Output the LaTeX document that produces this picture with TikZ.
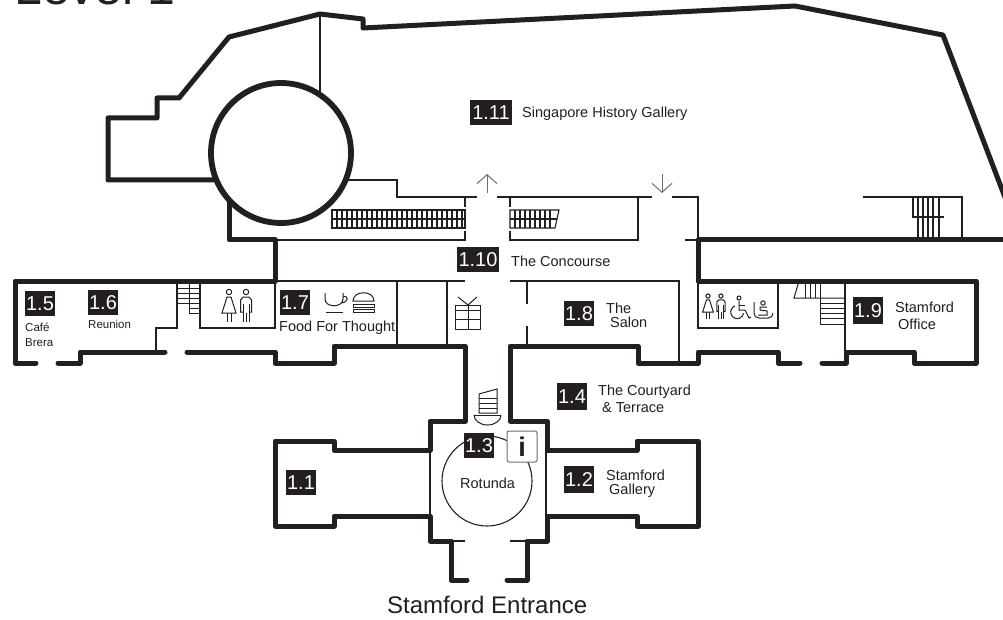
\documentclass[tikz,border=0pt]{standalone}
\usepackage{fontspec}
\setmainfont{Liberation Sans}
\usepackage{tikz}
\usetikzlibrary{arrows.meta}
\definecolor{MapInk}{RGB}{35, 31, 32}
\definecolor{MapGray}{RGB}{110, 110, 110}
\tikzset{
  wall/.style={line width=5pt, MapInk, line join=round, line cap=round},
  thinwall/.style={line width=1.1pt, MapInk},
  iconline/.style={line width=1pt, MapInk},
  badge/.style={fill=MapInk, text=white, inner sep=0pt, minimum width=30pt, minimum height=25pt, font=\fontsize{20}{20}\selectfont},
  roomlabel/.style={text=MapInk, inner sep=0pt, font=\fontsize{14.5}{14.5}\selectfont},
  smalllabel/.style={text=MapInk, inner sep=0pt, font=\fontsize{11.5}{11.5}\selectfont},
}
\newcommand{\womanfig}[3]{%
  \begin{scope}[shift={(#1,#2)}, scale=#3, iconline]
    \draw (0,0) circle (2.7);
    \draw (-2,5) -- (2,5) -- (7,21) -- (-7,21) -- cycle;
    \draw (-2,21) -- (-2,30) (2,21) -- (2,30);
  \end{scope}}
\newcommand{\manfig}[3]{%
  \begin{scope}[shift={(#1,#2)}, scale=#3, iconline]
    \draw (0,0) circle (2.7);
    \draw (-3,20) -- (-5.5,20) -- (-5.5,8) -- (-3,5) -- (3,5) -- (5.5,8) -- (5.5,20) -- (3,20);
    \draw (-3,30) -- (-3,12) (3,12) -- (3,30) (0,30) -- (0,21);
  \end{scope}}
\begin{document}
\begin{tikzpicture}[x=1pt, y=-1pt]
  \useasboundingbox (0,0) rectangle (1003,620);
  \fill[white] (0,0) rectangle (1003,620);

  % Title, cut by the page
  \node[anchor=base west, inner sep=0pt, text=MapInk, font=\fontsize{50}{50}\selectfont] (title) at (14,5) {Level 1};

  % Thin partitions, upper floor
  \draw[thinwall] (320,14) -- (320,92);
  \draw[thinwall] (348,180) -- (397,180) -- (397,197) -- (477,197);
  \draw[thinwall] (497,197) -- (652,197);
  \draw[thinwall] (672,197) -- (698,197) -- (698,240);
  \draw[thinwall] (685,240) -- (698,240);
  \draw[thinwall] (465,197) -- (465,207);
  \draw[thinwall] (465,231) -- (465,240) -- (275,240);
  \draw[thinwall] (510,197) -- (510,207);
  \draw[thinwall] (510,231) -- (510,240) -- (638,240) -- (638,197);
  \draw[thinwall] (863,197) -- (962,197) -- (962,240);

  % Escalators
  \draw[thinwall] (332,210) rectangle (465,228);
  \draw[thinwall] (332,219) -- (465,219);
  \foreach \x in {337,342,...,462} \draw[thinwall] (\x,210) -- (\x,228);
  \draw[thinwall] (510,210) -- (559,210) -- (555,228) -- (510,228) -- cycle;
  \draw[thinwall] (510,219) -- (557,219);
  \foreach \x in {515,520,...,550} \draw[thinwall] (\x,210) -- (\x,228);

  % Stairs, top right
  \foreach \x in {918,923,928,933,939} \draw[thinwall] (\x,197) -- (\x,240);
  \draw[thinwall] (913,197) -- (913,217) -- (944,217);

  % Up and down arrows
  \coordinate (uptail) at (487,193);
  \coordinate (uphead) at (487,174);
  \coordinate (downtail) at (662,174);
  \coordinate (downhead) at (662,193);
  \draw[MapGray, line width=1pt, -{Straight Barb[length=9pt, width=20pt]}] (uptail) -- (uphead);
  \draw[MapGray, line width=1pt, -{Straight Barb[length=9pt, width=20pt]}] (downtail) -- (downhead);

  % Concourse and rooms
  \draw[thinwall] (275,281) -- (465,281);
  \draw[thinwall] (510,281) -- (679,281) -- (679,362);
  \draw[thinwall] (397,281) -- (397,346);
  \draw[thinwall] (447,281) -- (447,346);
  \draw[thinwall] (527,281) -- (527,304);
  \draw[thinwall] (527,326) -- (527,346);
  \draw[thinwall] (177,281) -- (177,328) -- (156,328) -- (156,352);
  \draw[thinwall] (200,281) -- (200,328) -- (275,328) -- (275,281);
  \draw[thinwall] (698,281) -- (698,328) -- (778,328) -- (778,281);
  \draw[thinwall] (845,281) -- (845,352);
  \draw[thinwall] (430,450) -- (430,516);
  \draw[thinwall] (546,450) -- (546,516);
  \draw[thinwall] (451,541) -- (465,541);
  \draw[thinwall] (510,541) -- (527,541);

  % Stairs by the toilets
  \foreach \y in {288,293,298,303} \draw[iconline] (177,\y) -- (200,\y);
  \foreach \y in {308,313} \draw[iconline] (189,\y) -- (200,\y);
  \draw[iconline] (189,281) -- (189,313);

  % Stairs by Stamford Office
  \draw[iconline] (799,281) -- (794,298) -- (845,298);
  \foreach \x in {805,810,815} \draw[iconline] (\x,281) -- (\x,298);
  \draw[iconline] (820,281) -- (820,324);
  \foreach \y in {303,308,313,318,324} \draw[iconline] (820,\y) -- (845,\y);

  % Stairs to the rotunda
  \draw[iconline] (479,394) -- (497,389) -- (497,413) -- (479,413) -- cycle;
  \foreach \y in {398,403,408} \draw[iconline] (479,\y) -- (497,\y);
  \draw[iconline] (474,415) -- (501,415);
  \draw[iconline] (474,415) arc[start angle=180, end angle=0, x radius=13.5, y radius=10];

  % Thick outer walls
  \draw[wall] (213,180) -- (108,180) -- (108,118) -- (157,118) -- (157,98) -- (179,98) -- (229,37) -- (320,14) -- (363,19) -- (363,28) -- (795,6) -- (943,35) -- (1006,200);
  \draw[wall, line width=5.8pt] (281,153) circle (70);
  \draw[wall] (229,202) -- (229,240) -- (275,240) -- (275,281) -- (15,281) -- (15,363) -- (36,363);
  \draw[wall] (58,363) -- (80,363) -- (80,352) -- (165,352);
  \draw[wall] (187,352) -- (275,352) -- (275,363) -- (334,363) -- (334,346) -- (465,346) -- (465,421) -- (430,421) -- (430,450) -- (334,450) -- (334,441) -- (275,441) -- (275,526) -- (334,526) -- (334,516) -- (430,516) -- (430,541) -- (451,541) -- (451,580) -- (467,580);
  \draw[wall] (507,580) -- (527,580) -- (527,541) -- (547,541) -- (547,516) -- (637,516) -- (637,526) -- (698,526) -- (698,441) -- (637,441) -- (637,450) -- (547,450) -- (547,421) -- (510,421) -- (510,346) -- (638,346) -- (638,363) -- (698,363) -- (698,352) -- (778,352) -- (778,363) -- (800,363);
  \draw[wall] (822,363) -- (846,363) -- (846,352) -- (914,352) -- (914,363) -- (976,363) -- (976,281) -- (698,281) -- (698,240) -- (1006,240);

  % Rotunda
  \draw[line width=1.1pt, MapInk] (487,481) circle (45);
  \node[draw=MapGray, fill=white, rounded corners=2pt, line width=1pt, minimum width=30pt, minimum height=31pt, inner sep=0pt, text=MapInk, font=\bfseries\fontsize{27}{27}\selectfont] (info) at (522,446.5) {i};

  % Toilets
  \womanfig{229}{292}{1}
  \manfig{246}{292}{1}
  \womanfig{708}{296}{0.77}
  \manfig{721}{296}{0.77}

  % Wheelchair
  \draw[iconline] (739,298) circle (2);
  \draw[iconline] (739,301) -- (739,310) -- (745,310) -- (749,318) -- (751,317);
  \draw[iconline] (739,305) -- (745,305);
  \draw[iconline] (735,306) arc[start angle=-110, end angle=-350, radius=6.5];

  % Baby change
  \draw[iconline] (754,302) -- (754,313) .. controls (754,316) and (756,318) .. (759,318) -- (768,318) .. controls (771,318) and (773,316) .. (773,313);
  \draw[iconline] (763,303) circle (2.2);
  \draw[iconline] (767,307) -- (760,307) -- (760,310) -- (767,311) -- (767,315) -- (758,315);

  % Gift shop
  \draw[iconline] (455,305) rectangle (480,329);
  \draw[iconline] (455,310) -- (480,310);
  \draw[iconline] (455,319) -- (480,319);
  \draw[iconline] (468,305) -- (468,329);
  \draw[iconline] (458,297) -- (468,305) -- (477,297);

  % Cafe cup and burger
  \draw[iconline] (325,293) -- (325,299) .. controls (325,308) and (343,308) .. (343,299) -- (343,293);
  \draw[iconline] (343,296) .. controls (349,296) and (349,302) .. (341,303);
  \draw[iconline] (326,312) -- (343,312);
  \draw[iconline] (353,301) .. controls (353,290) and (374,290) .. (374,301) -- cycle;
  \draw[iconline] (353,304) rectangle (374,307);
  \draw[iconline] (353,309) rectangle (374,312);

  % Room numbers
  \node[badge, minimum width=42pt] (r111) at (491,112.5) {1.11};
  \node[badge, minimum width=42pt] (r110) at (478,259.5) {1.10};
  \node[badge] (r15) at (40,303.5) {1.5};
  \node[badge] (r16) at (103,302.5) {1.6};
  \node[badge] (r17) at (295,302.5) {1.7};
  \node[badge] (r18) at (579,313.5) {1.8};
  \node[badge, minimum height=27pt] (r19) at (868,310.5) {1.9};
  \node[badge, minimum height=27pt] (r14) at (572,396.5) {1.4};
  \node[badge] (r11) at (301,482.5) {1.1};
  \node[badge, minimum height=27pt] (r12) at (579,479.5) {1.2};
  \node[badge] (r13) at (479,445.5) {1.3};

  % Room names
  \node[roomlabel, anchor=west] (gallerylabel) at (522,114) {Singapore History Gallery};
  \node[roomlabel, anchor=west] (concourselabel) at (511,261) {The Concourse};
  \node[smalllabel, anchor=west] (cafelabel) at (25,327) {Café};
  \node[smalllabel, anchor=west] (breralabel) at (25,343) {Brera};
  \node[smalllabel, anchor=west] (reunionlabel) at (88,324) {Reunion};
  \node[roomlabel, anchor=west] (foodlabel) at (279,328) {Food For Thought};
  \node[roomlabel, anchor=west] (salonlabela) at (606,308) {The};
  \node[roomlabel, anchor=west] (salonlabelb) at (610,322) {Salon};
  \node[roomlabel, anchor=west] (officelabela) at (895,307) {Stamford};
  \node[roomlabel, anchor=west] (officelabelb) at (898,324) {Office};
  \node[roomlabel, anchor=west] (courtlabela) at (598,392) {The Courtyard};
  \node[roomlabel, anchor=west] (courtlabelb) at (602,408) {\& Terrace};
  \node[roomlabel, anchor=west] (stamfordlabela) at (606,475) {Stamford};
  \node[roomlabel, anchor=west] (stamfordlabelb) at (609,491) {Gallery};
  \node[roomlabel, anchor=west] (rotundalabel) at (460,483) {Rotunda};
  \node[anchor=west, inner sep=0pt, text=MapInk, font=\fontsize{24}{24}\selectfont] (entrancelabel) at (387,605) {Stamford Entrance};
\end{tikzpicture}
\end{document}
